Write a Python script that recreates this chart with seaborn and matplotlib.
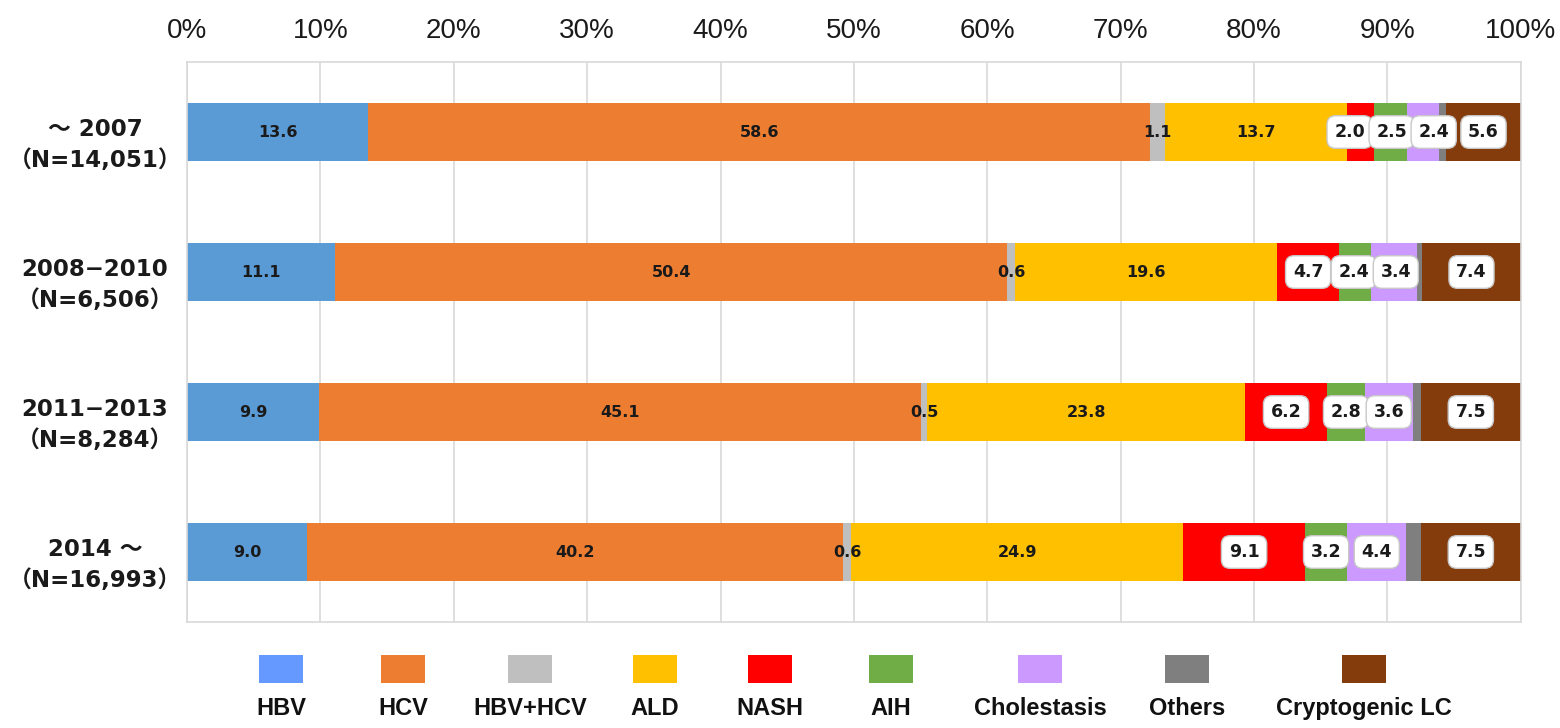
import numpy as np
import pandas as pd
import seaborn as sns
import matplotlib.pyplot as plt
from matplotlib.patches import Rectangle
from matplotlib.transforms import blended_transform_factory

# ---- data -------------------------------------------------------------
periods = ["～ 2007\n（N=14,051）", "2008−2010\n（N=6,506）",
           "2011−2013\n（N=8,284）", "2014 ～\n（N=16,993）"]
etiologies = ["HBV", "HCV", "HBV+HCV", "ALD", "NASH", "AIH",
              "Cholestasis", "Others", "Cryptogenic LC"]

hbv = [13.6, 11.1, 9.9, 9.0]
hcv = [58.6, 50.4, 45.1, 40.2]
hbv_hcv = [1.1, 0.6, 0.5, 0.6]
ald = [13.7, 19.6, 23.8, 24.9]
nash = [2.0, 4.7, 6.2, 9.1]
aih = [2.5, 2.4, 2.8, 3.2]
cholestasis = [2.4, 3.4, 3.6, 4.4]
others = [0.5, 0.4, 0.6, 1.1]
cryptogenic = [5.6, 7.4, 7.5, 7.5]

xticks = list(range(0, 101, 10))

# ---- style -------------------------------------------------------------
colors = ["#5B9BD5", "#ED7D31", "#BFBFBF", "#FFC000", "#FF0000",
          "#70AD47", "#CC99FF", "#7F7F7F", "#843C0C"]
legend_colors = ["#6699FF"] + colors[1:]
plain_labels = {"HBV", "HCV", "HBV+HCV", "ALD"}
boxed_labels = {"NASH", "AIH", "Cholestasis", "Cryptogenic LC"}

sns.set_theme(style="white")
plt.rcParams["font.family"] = ["Liberation Sans", "DejaVu Sans"]
label_font = ["DejaVu Sans", "Noto Sans CJK JP"]
grid_color = "#D9D9D9"

values = pd.DataFrame(
    [hbv, hcv, hbv_hcv, ald, nash, aih, cholestasis, others, cryptogenic],
    index=etiologies, columns=periods).T
cumulative = values.cumsum(axis=1)
starts = cumulative - values

fig = plt.figure(figsize=(15.6, 7.28), dpi=100)
ax = fig.add_axes([0.1199, 0.1456, 0.855, 0.7692])

long_df = cumulative.reset_index().rename(columns={"index": "period"})

# stacked bars: draw cumulative totals from the outermost segment inwards
for name, color in reversed(list(zip(etiologies, colors))):
    sns.barplot(data=long_df, x=name, y="period", order=periods,
                color=color, saturation=1, orient="h", width=0.41,
                edgecolor="none", linewidth=0, ax=ax, zorder=2)

ax.set_xlim(0, 100)
ax.set_ylim(3.5, -0.5)
ax.set_xlabel("")
ax.set_ylabel("")

# x axis on top
ax.xaxis.tick_top()
ax.set_xticks(xticks)
ax.set_xticklabels([f"{v}%" for v in xticks], fontsize=20, color="#1a1a1a")
ax.tick_params(axis="x", length=0, pad=13)
ax.grid(axis="x", color=grid_color, linewidth=1.2, zorder=0)
ax.grid(axis="y", visible=False)
ax.set_axisbelow(True)
for sp in ax.spines.values():
    sp.set_color(grid_color)
    sp.set_linewidth(1.2)

# period labels on the left
ax.set_yticks(range(len(periods)))
ax.set_yticklabels([])
ax.tick_params(axis="y", length=0)
trans = blended_transform_factory(ax.transAxes, ax.transData)
for i, lab in enumerate(periods):
    ax.text(-0.069, i + 0.09, lab, transform=trans, ha="center",
            va="center", fontsize=16.5, fontweight="bold",
            family=label_font, color="#1a1a1a", linespacing=1.45)

# value labels
box_gap = 3.15
for i, period in enumerate(periods):
    row_vals = values.loc[period]
    row_start = starts.loc[period]
    centers = row_start + row_vals / 2
    for name in etiologies:
        if name in plain_labels:
            ax.text(centers[name], i, f"{row_vals[name]:.1f}", ha="center",
                    va="center", fontsize=11.5, fontweight="bold",
                    family="DejaVu Sans", color="#1a1a1a", zorder=5)
    # spread the boxed labels so neighbouring boxes do not overlap
    names = [n for n in etiologies if n in boxed_labels]
    pos = [centers[n] for n in names]
    for _ in range(50):
        for k in range(1, len(pos)):
            overlap = box_gap - (pos[k] - pos[k - 1])
            if overlap > 0:
                pos[k - 1] -= overlap / 2
                pos[k] += overlap / 2
    for name, x in zip(names, pos):
        ax.text(x, i, f"{row_vals[name]:.1f}", ha="center", va="center",
                fontsize=12.5, fontweight="bold", family="DejaVu Sans",
                color="#1a1a1a", zorder=6,
                bbox=dict(boxstyle="round,pad=0.42,rounding_size=0.5",
                          facecolor="white", edgecolor="#C8C8C8",
                          linewidth=1))

# legend: swatch above each label along the bottom
legend_x = [281, 403, 530, 655, 770, 891, 1040, 1187, 1364]
sw_w, sw_h = 44 / 1560, 28 / 728
for name, color, xp in zip(etiologies, legend_colors, legend_x):
    xc = xp / 1560
    fig.add_artist(Rectangle((xc - sw_w / 2, 0.0618), sw_w, sw_h,
                             transform=fig.transFigure, facecolor=color,
                             edgecolor="none"))
    fig.text(xc, 0.027, name, ha="center", va="center", fontsize=17,
             fontweight="bold", color="#111111")

fig.savefig("out.png", dpi=100)
